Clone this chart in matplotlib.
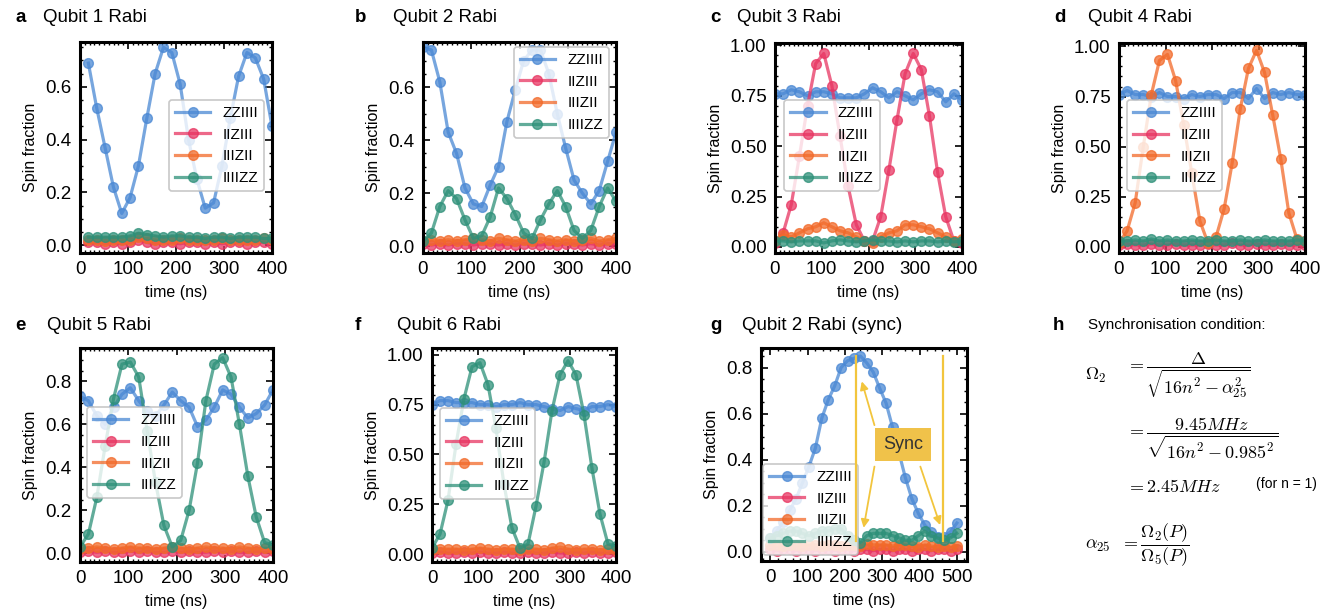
import numpy as np
import matplotlib
matplotlib.use('Agg')
import matplotlib.pyplot as plt
from matplotlib.ticker import MultipleLocator, FormatStrFormatter

plt.rcParams['font.family'] = ['Liberation Sans', 'DejaVu Sans']
plt.rcParams['mathtext.fontset'] = 'cm'

W, H = 1320, 611

# ---- data ----
LABELS = ['ZZIIII', 'IIZIII', 'IIIZII', 'IIIIZZ']
COLORS = ['#4A88D4', '#E83562', '#F26A2A', '#2E9079']

T = [0, 17.4, 34.8, 52.2, 69.6, 87.0, 104.3, 121.7, 139.1, 156.5, 173.9, 191.3,
     208.7, 226.1, 243.5, 260.9, 278.3, 295.7, 313.0, 330.4, 347.8, 365.2, 382.6, 400]
T_A = T[1:]
T_G = [0, 17.2, 34.5, 51.7, 69.0, 86.2, 103.4, 120.7, 137.9, 155.2, 172.4, 189.7, 206.9,
       224.1, 241.4, 258.6, 275.9, 293.1, 310.3, 327.6, 344.8, 362.1, 379.3, 396.6,
       413.8, 431.0, 448.3, 465.5, 482.8, 500]

# qubit 1
A_ZZ = [0.69, 0.52, 0.37, 0.22, 0.12, 0.18, 0.30, 0.48, 0.65, 0.75, 0.73, 0.61,
        0.40, 0.25, 0.14, 0.16, 0.30, 0.48, 0.64, 0.73, 0.71, 0.63, 0.45]
A_IIZ = [0.01, 0.01, 0.005, 0.01, 0.005, 0.01, 0.02, 0.01, 0.005, 0.01, 0.01, 0.005,
         0.01, 0.01, 0.005, 0.01, 0.005, 0.01, 0.01, 0.005, 0.01, 0.01, 0.005]
A_IIIZ = [0.02, 0.02, 0.015, 0.02, 0.02, 0.02, 0.03, 0.025, 0.02, 0.02, 0.02, 0.025,
          0.02, 0.02, 0.02, 0.02, 0.025, 0.02, 0.02, 0.02, 0.02, 0.025, 0.02]
A_IIIIZZ = [0.03, 0.03, 0.03, 0.03, 0.03, 0.035, 0.045, 0.04, 0.035, 0.03, 0.035, 0.035,
            0.03, 0.03, 0.025, 0.03, 0.03, 0.025, 0.03, 0.03, 0.03, 0.025, 0.025]

# qubit 2
B_ZZ = [0.75, 0.74, 0.62, 0.43, 0.35, 0.22, 0.16, 0.15, 0.23, 0.30, 0.47, 0.59,
        0.70, 0.74, 0.74, 0.65, 0.50, 0.37, 0.25, 0.20, 0.16, 0.21, 0.32, 0.43]
B_IIZ = [0.01, 0.005, 0.01, 0.005, 0.01, 0.01, 0.005, 0.01, 0.01, 0.005, 0.01, 0.005,
         0.01, 0.01, 0.005, 0.01, 0.005, 0.01, 0.01, 0.005, 0.01, 0.005, 0.01, 0.01]
B_IIIZ = [0.02, 0.025, 0.02, 0.025, 0.02, 0.025, 0.03, 0.025, 0.02, 0.03, 0.025, 0.02,
          0.025, 0.02, 0.03, 0.025, 0.02, 0.025, 0.02, 0.025, 0.03, 0.02, 0.025, 0.03]
B_IIIIZZ = [0.02, 0.05, 0.15, 0.21, 0.18, 0.10, 0.03, 0.04, 0.11, 0.22, 0.18, 0.12,
            0.05, 0.03, 0.10, 0.16, 0.21, 0.15, 0.06, 0.03, 0.06, 0.15, 0.22, 0.17]

# qubit 3
C_ZZ = [0.76, 0.76, 0.78, 0.77, 0.75, 0.77, 0.77, 0.76, 0.74, 0.74, 0.74, 0.76,
        0.79, 0.77, 0.74, 0.77, 0.75, 0.73, 0.76, 0.78, 0.77, 0.72, 0.76, 0.73]
C_IIZ = [0.02, 0.07, 0.21, 0.45, 0.70, 0.91, 0.96, 0.80, 0.55, 0.30, 0.11, 0.03,
         0.03, 0.15, 0.38, 0.63, 0.86, 0.96, 0.88, 0.65, 0.37, 0.15, 0.03, 0.02]
C_IIIZ = [0.03, 0.06, 0.05, 0.07, 0.09, 0.10, 0.12, 0.10, 0.08, 0.07, 0.05, 0.03,
          0.02, 0.05, 0.07, 0.08, 0.11, 0.11, 0.10, 0.09, 0.07, 0.05, 0.03, 0.04]
C_IIIIZZ = [0.03, 0.03, 0.025, 0.03, 0.03, 0.03, 0.02, 0.03, 0.035, 0.03, 0.025, 0.03,
            0.035, 0.03, 0.03, 0.025, 0.03, 0.025, 0.03, 0.03, 0.025, 0.03, 0.025, 0.03]

# qubit 4
D_ZZ = [0.76, 0.78, 0.76, 0.76, 0.75, 0.77, 0.75, 0.75, 0.74, 0.76, 0.75, 0.76,
        0.76, 0.74, 0.77, 0.77, 0.74, 0.79, 0.74, 0.77, 0.76, 0.77, 0.76, 0.76]
D_IIZ = [0.01, 0.015, 0.01, 0.01, 0.015, 0.01, 0.01, 0.015, 0.01, 0.01, 0.01, 0.015,
         0.01, 0.01, 0.02, 0.01, 0.01, 0.015, 0.01, 0.01, 0.015, 0.01, 0.01, 0.01]
D_IIIZ = [0.02, 0.08, 0.22, 0.50, 0.76, 0.93, 0.96, 0.83, 0.61, 0.37, 0.13, 0.02,
          0.05, 0.19, 0.42, 0.69, 0.89, 0.98, 0.87, 0.66, 0.44, 0.17, 0.04, 0.03]
D_IIIIZZ = [0.03, 0.03, 0.035, 0.03, 0.04, 0.03, 0.035, 0.03, 0.03, 0.035, 0.03, 0.03,
            0.035, 0.03, 0.03, 0.035, 0.03, 0.03, 0.035, 0.03, 0.03, 0.03, 0.035, 0.03]

# qubit 5
E_ZZ = [0.73, 0.71, 0.64, 0.60, 0.68, 0.74, 0.77, 0.71, 0.66, 0.64, 0.69, 0.75,
        0.71, 0.68, 0.59, 0.62, 0.68, 0.76, 0.74, 0.68, 0.63, 0.65, 0.69, 0.76]
E_IIZ = [0.005, 0.01, 0.005, 0.01, 0.005, 0.005, 0.01, 0.005, 0.01, 0.005, 0.005, 0.01,
         0.005, 0.01, 0.005, 0.005, 0.01, 0.005, 0.01, 0.005, 0.005, 0.01, 0.005, 0.01]
E_IIIZ = [0.02, 0.025, 0.03, 0.025, 0.02, 0.025, 0.03, 0.025, 0.025, 0.02, 0.025, 0.03,
          0.025, 0.02, 0.025, 0.03, 0.025, 0.025, 0.02, 0.03, 0.025, 0.02, 0.025, 0.02]
E_IIIIZZ = [0.03, 0.09, 0.26, 0.50, 0.72, 0.88, 0.89, 0.82, 0.57, 0.33, 0.13, 0.03,
            0.06, 0.20, 0.42, 0.71, 0.88, 0.91, 0.82, 0.60, 0.36, 0.17, 0.05, 0.04]

# qubit 6
F_ZZ = [0.75, 0.77, 0.77, 0.76, 0.76, 0.76, 0.75, 0.75, 0.74, 0.75, 0.75, 0.76,
        0.75, 0.75, 0.74, 0.73, 0.72, 0.74, 0.73, 0.72, 0.74, 0.74, 0.75, 0.74]
F_IIZ = [0.005, 0.01, 0.005, 0.005, 0.01, 0.005, 0.01, 0.005, 0.005, 0.01, 0.005, 0.005,
         0.01, 0.005, 0.005, 0.01, 0.005, 0.005, 0.01, 0.005, 0.01, 0.005, 0.005, 0.01]
F_IIIZ = [0.02, 0.025, 0.025, 0.025, 0.02, 0.025, 0.03, 0.025, 0.02, 0.025, 0.025, 0.02,
          0.025, 0.025, 0.02, 0.03, 0.035, 0.025, 0.02, 0.025, 0.025, 0.02, 0.025, 0.02]
F_IIIIZZ = [0.03, 0.10, 0.27, 0.55, 0.78, 0.94, 0.96, 0.85, 0.63, 0.35, 0.13, 0.03,
            0.05, 0.24, 0.46, 0.72, 0.90, 0.97, 0.90, 0.70, 0.43, 0.20, 0.05, 0.04]

# qubit 2, synchronised
G_ZZ = [0.06, 0.09, 0.13, 0.18, 0.23, 0.30, 0.37, 0.45, 0.58, 0.66, 0.72, 0.80, 0.83,
        0.84, 0.85, 0.82, 0.78, 0.71, 0.645, 0.54, 0.43, 0.32, 0.23, 0.167, 0.116,
        0.087, 0.065, 0.065, 0.087, 0.125]
G_IIZ = [0.01, 0.005, 0.01, 0.01, 0.005, 0.01, 0.01, 0.005, 0.01, 0.01, 0.005, 0.01,
         0.01, 0.005, 0.01, 0.01, 0.005, 0.01, 0.01, 0.005, 0.01, 0.01, 0.005, 0.01,
         0.01, 0.005, 0.01, 0.01, 0.005, 0.01]
G_IIIZ = [0.03, 0.03, 0.025, 0.03, 0.03, 0.025, 0.03, 0.03, 0.025, 0.03, 0.03, 0.025,
          0.03, 0.03, 0.025, 0.035, 0.03, 0.03, 0.03, 0.025, 0.03, 0.03, 0.025, 0.02,
          0.03, 0.025, 0.02, 0.025, 0.02, 0.025]
G_IIIIZZ = [0.06, 0.07, 0.08, 0.09, 0.09, 0.08, 0.07, 0.08, 0.09, 0.09, 0.10, 0.10,
            0.07, 0.05, 0.04, 0.07, 0.08, 0.08, 0.08, 0.07, 0.06, 0.05, 0.05, 0.07,
            0.09, 0.07, 0.06, 0.05, 0.06, 0.08]
SYNC_T = [230, 462]


def px_axes(left, right, top, bottom):
    return [left / W, 1 - bottom / H, (right - left) / W, (bottom - top) / H]


def draw_panel(rect, t, series, ylim, ymaj, ymin, yfmt, leg_loc, leg_anchor,
               xlim=(0, 400), xmaj=100, xmin=10):
    ax = fig.add_axes(px_axes(*rect))
    for ys, lab, col in zip(series, LABELS, COLORS):
        ax.plot(t, ys, '-o', color=col, lw=2.3, ms=7, alpha=0.75, label=lab)
    ax.set_xlim(*xlim)
    ax.set_ylim(*ylim)
    ax.xaxis.set_major_locator(MultipleLocator(xmaj))
    ax.xaxis.set_minor_locator(MultipleLocator(xmin))
    ax.yaxis.set_major_locator(MultipleLocator(ymaj))
    ax.yaxis.set_minor_locator(MultipleLocator(ymin))
    ax.yaxis.set_major_formatter(FormatStrFormatter(yfmt))
    ax.tick_params(which='both', direction='in', top=True, right=True, labelsize=13.5)
    ax.tick_params(which='major', length=5, width=1.2, pad=6)
    ax.tick_params(which='minor', length=2.5, width=1)
    for s in ax.spines.values():
        s.set_linewidth(2.2)
    ax.set_xlabel('time (ns)', fontsize=11.5, labelpad=5)
    ax.set_ylabel('Spin fraction', fontsize=11.5, labelpad=5)
    leg = ax.legend(loc=leg_loc, bbox_to_anchor=leg_anchor, borderaxespad=0,
                    fontsize=11, handlelength=2.3, labelspacing=0.5,
                    framealpha=0.8, edgecolor='#bbbbbb', fancybox=True)
    leg.get_frame().set_linewidth(1.2)
    return ax


def panel_title(x_letter, x_title, y, letter, title):
    fig.text(x_letter / W, 1 - y / H, letter, fontsize=13.5, fontweight='bold', va='center')
    fig.text(x_title / W, 1 - y / H, title, fontsize=13.5, va='center')


fig = plt.figure(figsize=(W / 100, H / 100), dpi=100)

draw_panel((80, 272, 42, 253), T_A, [A_ZZ, A_IIZ, A_IIIZ, A_IIIIZZ],
           (-0.03, 0.77), 0.2, 0.05, '%.1f', 'center right', (0.96, 0.51))
draw_panel((423, 616, 42, 253), T, [B_ZZ, B_IIZ, B_IIIZ, B_IIIIZZ],
           (-0.025, 0.77), 0.2, 0.05, '%.1f', 'upper right', (0.964, 0.976))
draw_panel((775, 962, 43, 253), T, [C_ZZ, C_IIZ, C_IIIZ, C_IIIIZZ],
           (-0.03, 1.012), 0.25, 0.05, '%.2f', 'center left', (0.05, 0.51))
draw_panel((1119, 1305, 43, 253), T, [D_ZZ, D_IIZ, D_IIIZ, D_IIIIZZ],
           (-0.03, 1.017), 0.25, 0.05, '%.2f', 'center left', (0.043, 0.51))
draw_panel((80, 273, 348, 562), T, [E_ZZ, E_IIZ, E_IIIZ, E_IIIIZZ],
           (-0.04, 0.955), 0.2, 0.05, '%.1f', 'center left', (0.036, 0.51))
draw_panel((432, 616, 348, 562), T, [F_ZZ, F_IIZ, F_IIIZ, F_IIIIZZ],
           (-0.04, 1.034), 0.25, 0.05, '%.2f', 'center left', (0.043, 0.507))
axg = draw_panel((761, 967, 348, 561), T_G, [G_ZZ, G_IIZ, G_IIIZ, G_IIIIZZ],
                 (-0.04, 0.885), 0.2, 0.05, '%.1f', 'lower left', (0.01, 0.028),
                 xlim=(-25, 527), xmaj=100, xmin=20)

# sync markers and annotation on panel g
GOLD = '#F2C53D'
for xs in SYNC_T:
    axg.plot([xs, xs], [0.045, 0.85], color=GOLD, lw=1.6, zorder=6)
axg.text(355, 0.466, 'Sync', fontsize=13, color='#333333', ha='center', va='center',
         zorder=8, bbox=dict(boxstyle='square,pad=0.45', fc='#F0C24A', ec='none'))
for (x0, y0), (x1, y1) in [((279, 0.55), (245, 0.74)),
                           ((279, 0.37), (250, 0.104)),
                           ((402, 0.37), (455, 0.116))]:
    axg.annotate('', xy=(x1, y1), xytext=(x0, y0), zorder=7,
                 arrowprops=dict(arrowstyle='-|>', color=GOLD, lw=1.3,
                                 mutation_scale=12, shrinkA=0, shrinkB=0))

# panel titles
panel_title(15, 43, 18, 'a', 'Qubit 1 Rabi')
panel_title(355, 393, 18, 'b', 'Qubit 2 Rabi')
panel_title(710, 737, 18, 'c', 'Qubit 3 Rabi')
panel_title(1054, 1088, 18, 'd', 'Qubit 4 Rabi')
panel_title(15, 47, 325, 'e', 'Qubit 5 Rabi')
panel_title(355, 397, 325, 'f', 'Qubit 6 Rabi')
panel_title(710, 742, 325, 'g', 'Qubit 2 Rabi (sync)')

# panel h: synchronisation condition
fig.text(1053 / W, 1 - 325 / H, 'h', fontsize=13.5, fontweight='bold', va='center')
fig.text(1088 / W, 1 - 325 / H, 'Synchronisation condition:', fontsize=11, va='center')
EQ = 13
fig.text(1085 / W, 1 - 375 / H, r'$\Omega_2$', fontsize=EQ, va='center')
fig.text(1126 / W, 1 - 375 / H, r'$=\dfrac{\Delta}{\sqrt{16n^2-\alpha_{25}^2}}$',
         fontsize=EQ, va='center')
fig.text(1126 / W, 1 - 438 / H, r'$=\dfrac{9.45MHz}{\sqrt{16n^2-0.985^2}}$',
         fontsize=EQ, va='center')
fig.text(1126 / W, 1 - 487 / H, r'$=2.45MHz$', fontsize=EQ, va='center')
fig.text(1317 / W, 1 - 484 / H, '(for n = 1)', fontsize=10, va='center', ha='right')
fig.text(1085 / W, 1 - 545 / H, r'$\alpha_{25}$', fontsize=EQ, va='center')
fig.text(1120 / W, 1 - 545 / H, r'$=\dfrac{\Omega_2(P)}{\Omega_5(P)}$',
         fontsize=EQ, va='center')

fig.savefig('out.png', dpi=100)
